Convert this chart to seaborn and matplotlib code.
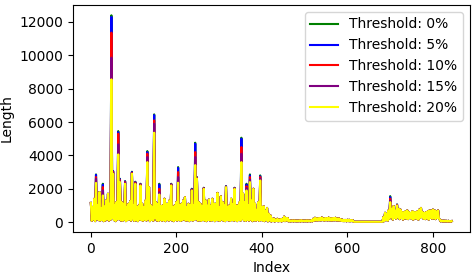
import numpy as np
import pandas as pd
import matplotlib

matplotlib.use("Agg")
import matplotlib.pyplot as plt
import seaborn as sns

# 20% threshold (yellow): upper samples at index 0, 4, 8, ... 844
length_high = [
    1150, 900, 1400, 2350, 1000, 1800, 850, 1600, 950, 1300,
    1700, 1100, 8560, 2900, 1000, 1200, 4060, 2400, 1200, 1100,
    2300, 900, 1100, 1250, 2900, 1000, 2300, 900, 1000, 2200,
    1100, 900, 1300, 3600, 2100, 1000, 900, 5360, 1200, 1100,
    1660, 950, 1000, 1400, 1100, 1100, 1300, 2200, 900, 1000,
    1200, 2360, 1000, 1100, 1300, 1500, 900, 1100, 1000, 1900,
    1000, 3420, 2600, 1200, 1100, 950, 2000, 1300, 1000, 1350,
    1000, 1400, 1100, 1100, 1750, 900, 1550, 1200, 1000, 2100,
    900, 1000, 1400, 1100, 2000, 1000, 1000, 1200, 3600, 1700,
    1200, 1900, 1000, 2400, 1300, 2000, 1100, 750, 1200, 2500,
    900, 950, 700, 850, 500, 400, 200, 220, 150, 200,
    160, 180, 200, 330, 250, 250, 120, 100, 110, 110,
    100, 100, 110, 120, 100, 100, 110, 110, 100, 120,
    200, 260, 230, 240, 250, 280, 220, 250, 240, 270,
    230, 240, 250, 260, 220, 230, 180, 150, 130, 130,
    140, 140, 120, 120, 20, 20, 20, 20, 20, 20,
    20, 20, 20, 20, 20, 20, 20, 20, 20, 20,
    20, 300, 560, 500, 700, 1200, 800, 960, 700, 1000,
    800, 750, 600, 600, 650, 700, 600, 550, 650, 600,
    600, 650, 750, 850, 600, 550, 600, 650, 700, 700,
    750, 700, 650, 700, 150, 100, 90, 90, 80, 80,
    60, 60,
]

# 20% threshold (yellow): lower samples at index 2, 6, 10, ... 842
length_low = [
    80, 150, 60, 200, 120, 90, 150, 60, 100, 180,
    90, 150, 250, 120, 60, 150, 200, 100, 80, 150,
    60, 120, 150, 90, 200, 70, 110, 60, 150, 120,
    80, 150, 100, 200, 60, 130, 90, 250, 100, 70,
    150, 80, 120, 60, 160, 90, 140, 100, 60, 130,
    90, 150, 70, 120, 160, 80, 110, 60, 140, 90,
    130, 200, 80, 110, 70, 150, 90, 60, 130, 100,
    80, 140, 60, 120, 100, 70, 150, 90, 60, 130,
    100, 70, 150, 80, 120, 60, 140, 90, 200, 110,
    70, 130, 90, 150, 60, 110, 80, 130, 70, 120,
    80, 60, 120, 50, 100, 40, 60, 40, 70, 50,
    60, 40, 80, 60, 90, 50, 40, 50, 40, 50,
    40, 50, 40, 50, 40, 50, 40, 50, 40, 50,
    80, 100, 90, 110, 100, 120, 90, 110, 100, 110,
    90, 100, 110, 100, 90, 90, 70, 60, 60, 50,
    60, 50, 60, 30, 20, 20, 20, 20, 20, 20,
    20, 20, 20, 20, 20, 20, 20, 20, 20, 20,
    20, 60, 120, 80, 200, 300, 150, 250, 200, 300,
    180, 250, 150, 220, 200, 180, 250, 200, 150, 220,
    200, 150, 250, 300, 200, 180, 220, 150, 250, 200,
    220, 180, 250, 200, 50, 40, 30, 40, 30, 40,
    30,
]

# Peaks where the lower thresholds rise above the 20% line
peak_index = [12, 28, 48, 52, 64, 68, 80, 96, 104, 116, 132, 148, 160,
              188, 204, 236, 244, 248, 264, 316, 336, 352, 364, 372, 396,
              700, 716]
peak_t0 = [2860, 2300, 12400, 3060, 5460, 2600, 2460, 3020, 2420, 2300,
           4260, 6460, 2300, 2300, 3300, 2000, 4760, 2700, 2060, 2160,
           2060, 5060, 2300, 2860, 2800, 1560, 1060]
peak_t5 = [2830, 2250, 12300, 3060, 5400, 2580, 2440, 3000, 2400, 2280,
           4200, 6420, 2250, 2280, 3250, 1980, 4700, 2680, 2050, 2150,
           2050, 5000, 2250, 2800, 2750, 1500, 1050]
peak_t10 = [2700, 2100, 11360, 3000, 5300, 2520, 2400, 2960, 2370, 2260,
            4100, 6100, 2000, 2260, 3000, 1950, 4200, 2650, 2030, 2130,
            2030, 4500, 2150, 2700, 2700, 1400, 1030]
peak_t15 = [2600, 1900, 9860, 2950, 4660, 2450, 2350, 2930, 2330, 2230,
            3900, 5900, 1800, 2230, 2700, 1920, 3900, 2620, 2010, 2110,
            2010, 4100, 2050, 2550, 2600, 1300, 1010]

thresholds = ["0%", "5%", "10%", "15%", "20%"]
colors = ["green", "blue", "red", "purple", "yellow"]


def build_series(peaks=None):
    high = np.array(length_high, dtype=float)
    if peaks is not None:
        high[np.array(peak_index) // 4] = peaks
    values = np.empty(len(high) + len(length_low))
    values[0::2] = high
    values[1::2] = length_low
    return values


series = {
    "0%": build_series(peak_t0),
    "5%": build_series(peak_t5),
    "10%": build_series(peak_t10),
    "15%": build_series(peak_t15),
    "20%": build_series(),
}
index = np.arange(len(series["20%"])) * 2

frames = []
for t in thresholds:
    frames.append(pd.DataFrame({"Index": index, "Length": series[t],
                                "Threshold": f"Threshold: {t}"}))
df = pd.concat(frames, ignore_index=True)

fig = plt.figure(figsize=(4.76, 2.76), dpi=100)
ax = fig.add_axes([0.153, 0.159, 0.834, 0.823])
sns.lineplot(
    data=df,
    x="Index",
    y="Length",
    hue="Threshold",
    palette=colors,
    estimator=None,
    linewidth=1.5,
    ax=ax,
)
ax.set_xticks([0, 200, 400, 600, 800])
ax.set_yticks(range(0, 12001, 2000))
ax.legend(loc="upper right")
fig.savefig("out.png", dpi=100)
